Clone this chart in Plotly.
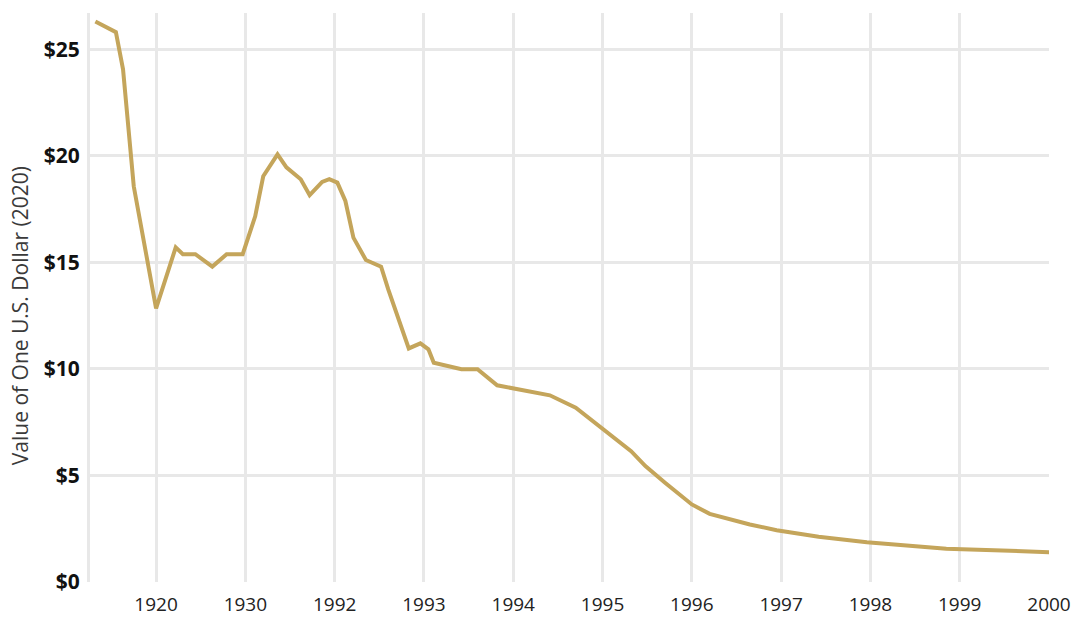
import plotly.graph_objects as go

# vertices (year position, value of one dollar in 2020 dollars)
years = [1913.2, 1915.5, 1916.3, 1917.5, 1920.0, 1922.2, 1923.0, 1924.4, 1926.3, 1927.9,
         1929.7, 1931.1, 1932.0, 1933.6, 1934.6, 1936.2, 1937.2, 1938.6, 1939.4, 1940.3,
         1941.2, 1942.1, 1943.5, 1945.2, 1946.0, 1948.3, 1949.6, 1950.5, 1951.1, 1954.2,
         1956.0, 1958.2, 1964.1, 1967.0, 1973.2, 1974.8, 1977.0, 1980.0, 1982.0, 1986.5,
         1989.5, 1994.2, 1999.6, 2008.5, 2020.1]
values = [26.3, 25.8, 24.06, 18.57, 12.84, 15.7, 15.38, 15.38, 14.8, 15.38,
          15.38, 17.16, 19.04, 20.07, 19.46, 18.9, 18.15, 18.77, 18.9, 18.74,
          17.88, 16.16, 15.11, 14.8, 13.73, 10.96, 11.2, 10.92, 10.29, 9.98,
          9.98, 9.23, 8.76, 8.18, 6.14, 5.44, 4.66, 3.64, 3.2, 2.7,
          2.43, 2.12, 1.87, 1.56, 1.40]

tick_pos = [1920, 1930, 1940, 1950, 1960, 1970, 1980, 1990, 2000, 2010, 2020]
tick_text = ['1920', '1930', '1992', '1993', '1994', '1995', '1996', '1997', '1998', '1999', '2000']
y_ticks = [0, 5, 10, 15, 20, 25]
y_text = ['<b>$%d</b>' % v for v in y_ticks]

grid = '#e8e8e8'

fig = go.Figure()
fig.add_trace(go.Scatter(x=years, y=values, mode='lines',
                         line=dict(color='#C4A55B', width=4), showlegend=False))

fig.update_layout(
    width=1072, height=617,
    margin=dict(l=90, r=23, t=13, b=35),
    paper_bgcolor='white', plot_bgcolor='white',
    font=dict(family='Open Sans', color='#111111'),
    xaxis=dict(range=[1912.6, 2020], tickvals=tick_pos, ticktext=tick_text,
               showgrid=True, gridcolor=grid, gridwidth=3, zeroline=False, automargin=False,
               tickfont=dict(size=19, color='#222222'), ticks='', ticklabelstandoff=9),
    yaxis=dict(range=[0, 26.7], tickvals=y_ticks, ticktext=y_text,
               showgrid=True, gridcolor=grid, gridwidth=3, zeroline=False, automargin=False,
               showline=True, linecolor=grid, linewidth=3,
               tickfont=dict(size=21, color='#111111'), ticks='', ticklabelstandoff=3),
)

# y title sits a little below the plot centre in the reference, so place it by hand
fig.add_annotation(text='Value of One U.S. Dollar (2020)', textangle=-90,
                   xref='paper', yref='paper', x=-0.0735, y=0.468,
                   xanchor='center', yanchor='middle', showarrow=False,
                   font=dict(size=21, color='#3a3a3a'))

# drop the default 8px body margin so the figure sits at the page corner
fig.write_html("out.html", config={'displayModeBar': False},
               post_script="document.body.style.margin='0';")
